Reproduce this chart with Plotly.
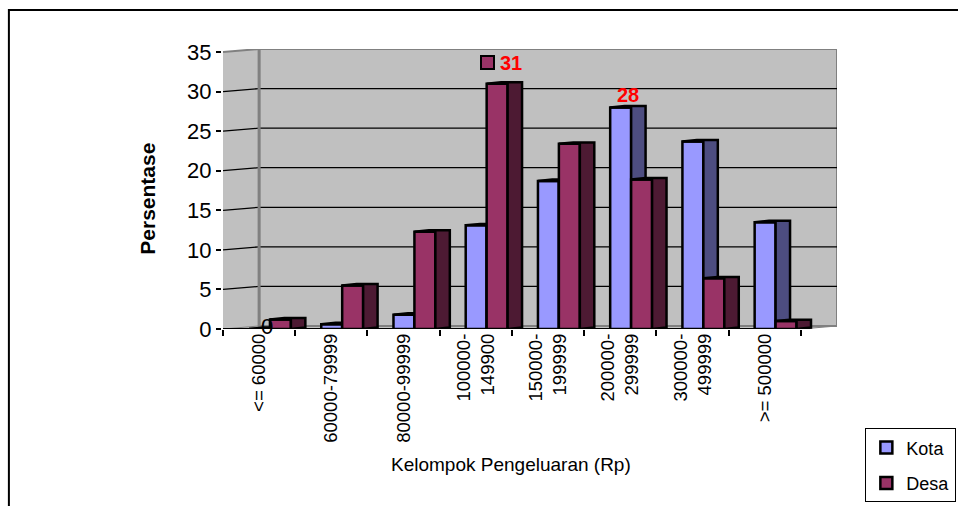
import plotly.graph_objects as go

# ---- data -------------------------------------------------------------
categories = ["<= 60000", "60000-79999", "80000-99999", "100000-<br>149900",
              "150000-<br>199999", "200000-<br>299999", "300000-<br>499999",
              ">= 500000"]
kota = [0, 0.6, 1.8, 13.1, 18.7, 28, 23.7, 13.5]
desa = [1.2, 5.5, 12.3, 31, 23.4, 18.9, 6.4, 1.0]
y_ticks = [0, 5, 10, 15, 20, 25, 30, 35]

# ---- look -------------------------------------------------------------
W, H = 958, 506
M_L, M_R, M_T, M_B = 223, 121.3, 49.0, 176.5
NARROW = "Liberation Sans, Arial, sans-serif"
SANS = "Liberation Sans, Arial, sans-serif"

KOTA_FRONT, KOTA_SIDE = "#9999FF", "#4D4D80"
DESA_FRONT, DESA_SIDE = "#993366", "#4D1A33"
WALL, WALL_EDGE = "#C0C0C0", "#808080"

# pseudo-3D geometry in axis units
DEPTH_X, DEPTH_Y = 0.5, 0.38        # wall depth
BAR_W = 0.29                         # front face width
SIDE_X, SIDE_Y = 0.2, 0.18           # bar depth
OFFSETS = {"Kota": -0.14, "Desa": 0.15}

n = len(categories)
xs = list(range(n))
x_range = [-0.5, n - 0.5 + DEPTH_X]
y_top = y_ticks[-1] + DEPTH_Y
plot_w = W - M_L - M_R
plot_h = H - M_T - M_B
px_per_x = plot_w / (x_range[1] - x_range[0])


def paper_x(px):
    return (px - M_L) / plot_w


def paper_y(py):
    return (H - M_B - py) / plot_h


def side_polygons(values, offset):
    """Top and right faces of each column, as one gap-separated outline."""
    px, py = [], []
    for c, v in zip(xs, values):
        x0 = c + offset
        x1 = x0 + BAR_W
        pts = [(x1, 0), (x1, v), (x0, v), (x0 + SIDE_X, v + SIDE_Y),
               (x1 + SIDE_X, v + SIDE_Y), (x1 + SIDE_X, SIDE_Y), (x1, 0)]
        px += [p[0] for p in pts] + [None]
        py += [p[1] for p in pts] + [None]
    return px, py


fig = go.Figure()

series = [("Kota", kota, KOTA_FRONT, KOTA_SIDE), ("Desa", desa, DESA_FRONT, DESA_SIDE)]
z = 1
for name, vals, front, side in series:
    fig.add_trace(go.Bar(
        x=xs, y=vals, name=name, legendgroup=name, offset=OFFSETS[name], width=BAR_W,
        marker=dict(color=front, line=dict(color="black", width=2.5)),
        zorder=z, hoverinfo="skip"))
    sx, sy = side_polygons(vals, OFFSETS[name])
    fig.add_trace(go.Scatter(
        x=sx, y=sy, mode="lines", fill="toself", fillcolor=side, legendgroup=name,
        line=dict(color="black", width=2.5), showlegend=False,
        hoverinfo="skip", zorder=z + 1))
    z += 2

# ---- walls, floor and gridlines ---------------------------------------
x_back_end = x_range[1]
x_front_end = n - 0.5
shapes = []
# outer frame of the chart
shapes.append(dict(type="rect", xref="paper", yref="paper",
                   x0=paper_x(9), x1=paper_x(975), y0=paper_y(10), y1=paper_y(520),
                   line=dict(color="black", width=2), layer="below"))
# left side wall
shapes.append(dict(type="path", xref="x", yref="y", layer="below",
                   path=f"M -0.5,0 L -0.5,{y_ticks[-1]} L 0,{y_top} L 0,{DEPTH_Y} Z",
                   fillcolor=WALL, line=dict(width=0)))
# floor
shapes.append(dict(type="path", xref="x", yref="y", layer="below",
                   path=f"M -0.5,0 L {x_front_end},0 L {x_back_end},{DEPTH_Y} L 0,{DEPTH_Y} Z",
                   fillcolor=WALL, line=dict(color=WALL_EDGE, width=1)))
# back wall
shapes.append(dict(type="rect", xref="x", yref="y", layer="below",
                   x0=0, x1=x_back_end, y0=DEPTH_Y, y1=y_top,
                   fillcolor=WALL, line=dict(color=WALL_EDGE, width=2)))
for t in y_ticks[1:-1]:
    shapes.append(dict(type="line", xref="x", yref="y", layer="below",
                       x0=0, x1=x_back_end, y0=t + DEPTH_Y, y1=t + DEPTH_Y,
                       line=dict(color="black", width=1.3)))
    shapes.append(dict(type="line", xref="x", yref="y", layer="below",
                       x0=-0.5, x1=0, y0=t, y1=t + DEPTH_Y,
                       line=dict(color="black", width=1.3)))
shapes.append(dict(type="line", xref="x", yref="y", layer="below",
                   x0=-0.5, x1=0, y0=y_ticks[-1], y1=y_top,
                   line=dict(color=WALL_EDGE, width=2)))
shapes.append(dict(type="line", xref="x", yref="y", layer="below",
                   x0=0, x1=0, y0=DEPTH_Y, y1=y_top,
                   line=dict(color=WALL_EDGE, width=3)))
# front edge of the floor (category axis line)
shapes.append(dict(type="line", xref="x", yref="y", layer="above",
                   x0=-0.5, x1=x_front_end, y0=0, y1=0,
                   line=dict(color="black", width=2)))

# ---- labels -----------------------------------------------------------
half_side_px = SIDE_X * px_per_x / 2
annotations = []
# value labels
i31 = desa.index(31)
desa_c = i31 + OFFSETS["Desa"] + BAR_W / 2
annotations.append(dict(x=desa_c, y=desa[i31], xref="x", yref="y", text=f"<b>{desa[i31]}</b>",
                        showarrow=False, xshift=13.5, yshift=21, yanchor="middle",
                        font=dict(family=SANS, size=20, color="#FF0000")))
annotations.append(dict(x=desa_c, y=desa[i31], xref="x", yref="y", text=" ",
                        showarrow=False, xshift=-10, yshift=21, yanchor="middle",
                        width=11, height=11, bgcolor=DESA_FRONT, bordercolor="black",
                        borderwidth=2, borderpad=0, font=dict(size=8)))
i28 = kota.index(28)
kota_c = i28 + OFFSETS["Kota"] + BAR_W / 2
annotations.append(dict(x=kota_c, y=kota[i28], xref="x", yref="y", text=f"<b>{kota[i28]}</b>",
                        showarrow=False, xshift=half_side_px, yshift=12, yanchor="middle",
                        font=dict(family=SANS, size=20, color="#FF0000")))
kota0_c = 0 + OFFSETS["Kota"] + BAR_W / 2
annotations.append(dict(x=kota0_c, y=kota[0], xref="x", yref="y", text=f"{kota[0]}",
                        showarrow=False, xshift=half_side_px, yshift=3, yanchor="middle",
                        font=dict(family=NARROW, size=22, color="black")))
# axis titles
annotations.append(dict(x=paper_x(148), y=paper_y(199), xref="paper", yref="paper",
                        text="<b>Persentase</b>", textangle=-90, showarrow=False,
                        xanchor="center", yanchor="middle",
                        font=dict(family=SANS, size=21, color="black")))
annotations.append(dict(x=paper_x(511), y=paper_y(465), xref="paper", yref="paper",
                        text="Kelompok Pengeluaran (Rp)", showarrow=False,
                        xanchor="center", yanchor="middle",
                        font=dict(family=NARROW, size=19, color="black")))

fig.update_layout(
    width=W, height=H,
    margin=dict(l=M_L, r=M_R, t=M_T, b=M_B, autoexpand=False),
    paper_bgcolor="white", plot_bgcolor="white",
    barmode="overlay",
    showlegend=True,
    legend=dict(x=paper_x(956), y=paper_y(429), xanchor="right", yanchor="top",
                bgcolor="white", bordercolor="black", borderwidth=1,
                traceorder="grouped", tracegroupgap=9, itemwidth=30,
                font=dict(family=NARROW, size=18, color="black")),
    shapes=shapes,
    annotations=annotations,
    xaxis=dict(range=x_range, tickvals=xs, ticktext=categories, tickangle=-90,
               ticks="", showgrid=False, zeroline=False, showline=False,
               tickfont=dict(family=NARROW, size=18.5, color="black"),
               minor=dict(tickvals=[i - 0.5 for i in range(n + 1)], ticks="outside",
                          ticklen=6, tickwidth=1.5, tickcolor="black", showgrid=False),
               fixedrange=True),
    yaxis=dict(range=[0, y_top], tickvals=y_ticks, ticks="outside", ticklen=5,
               tickwidth=1.5, tickcolor="black", showline=True, linecolor="black",
               linewidth=2, showgrid=False, zeroline=False,
               tickfont=dict(family=NARROW, size=22, color="black"),
               fixedrange=True),
)

fig.write_html("out.html")
